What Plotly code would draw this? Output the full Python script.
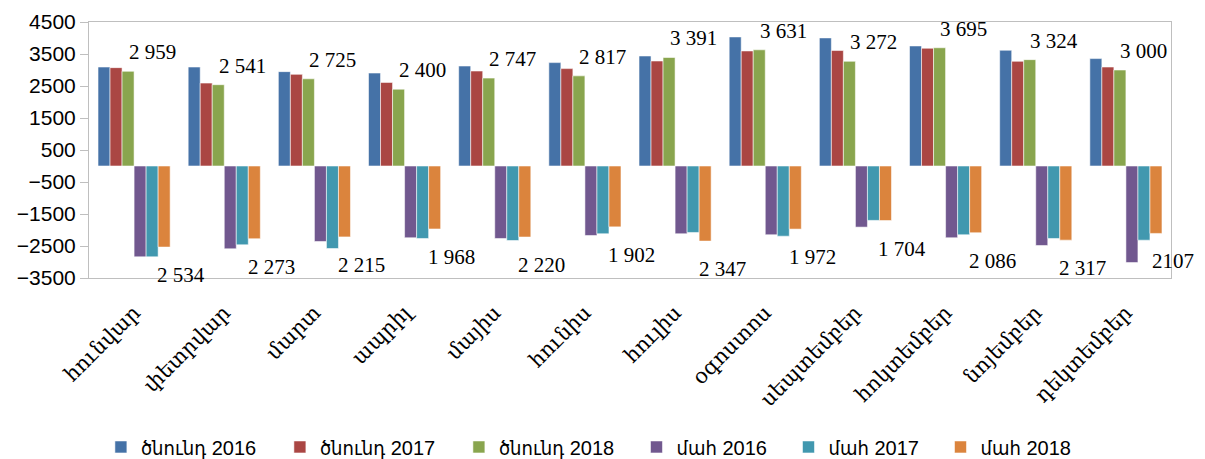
import plotly.graph_objects as go

months = ["հունվար", "փետրվար", "մարտ", "ապրիլ", "մայիս", "հունիս",
          "հուլիս", "օգոստոս", "սեպտեմբեր", "հոկտեմբեր", "նոյեմբեր", "դեկտեմբեր"]

births_2016 = [3093, 3093, 2949, 2905, 3125, 3231, 3438, 4034, 4003, 3752, 3617, 3357]
births_2017 = [3074, 2591, 2864, 2613, 2968, 3043, 3281, 3595, 3608, 3680, 3272, 3093]
births_2018 = [2959, 2541, 2725, 2400, 2747, 2817, 3391, 3631, 3272, 3695, 3324, 3000]
deaths_2016 = [2839, 2588, 2359, 2243, 2265, 2171, 2118, 2149, 1910, 2243, 2484, 3018]
deaths_2017 = [2839, 2463, 2579, 2265, 2328, 2118, 2077, 2193, 1700, 2149, 2265, 2318]
deaths_2018 = [2534, 2273, 2215, 1968, 2220, 1902, 2347, 1972, 1704, 2086, 2317, 2107]

label_births = ["2 959", "2 541", "2 725", "2 400", "2 747", "2 817",
                "3 391", "3 631", "3 272", "3 695", "3 324", "3 000"]
label_deaths = ["2 534", "2 273", "2 215", "1 968", "2 220", "1 902",
                "2 347", "1 972", "1 704", "2 086", "2 317", "2107"]

series = [
    ("ծնունդ 2016", births_2016, 1, "#4572A7", "legend"),
    ("ծնունդ 2017", births_2017, 1, "#AA4643", "legend"),
    ("ծնունդ 2018", births_2018, 1, "#89A54E", "legend"),
    ("մահ 2016", deaths_2016, -1, "#71588F", "legend2"),
    ("մահ 2017", deaths_2017, -1, "#4198AF", "legend2"),
    ("մահ 2018", deaths_2018, -1, "#DB843D", "legend2"),
]

y_ticks = list(range(-3500, 4501, 1000))
xs = list(range(len(months)))
bargap = 0.2
n = len(series)
bw = (1 - bargap) / n

fig = go.Figure()
for name, vals, sign, color, lg in series:
    fig.add_trace(go.Bar(
        x=xs, y=[sign * v for v in vals], name=name, legend=lg,
        marker=dict(color=color, line=dict(color="rgba(255,255,255,0.55)", width=1)),
    ))

serif = "Liberation Serif, DejaVu Serif, serif"
green_off = (2 - (n - 1) / 2) * bw
orange_off = (5 - (n - 1) / 2) * bw
annotations = []
for i in xs:
    annotations.append(dict(x=i + green_off, y=births_2018[i], xref="x", yref="y",
                            text=label_births[i], showarrow=False, xshift=24, yshift=19,
                            font=dict(family=serif, size=21, color="black")))
    annotations.append(dict(x=i + orange_off, y=-deaths_2018[i], xref="x", yref="y",
                            text=label_deaths[i], showarrow=False, xshift=17, yshift=-28,
                            font=dict(family=serif, size=21, color="black")))

legend_font = dict(family="Liberation Sans, DejaVu Sans Condensed, DejaVu Sans, sans-serif",
                   size=20, color="black")

fig.update_layout(
    width=1205, height=459,
    margin=dict(l=89, r=34, t=22, b=181, autoexpand=False),
    paper_bgcolor="white", plot_bgcolor="white",
    barmode="group", bargap=bargap, bargroupgap=0,
    showlegend=True,
    legend=dict(orientation="h", x=0.011, xanchor="left", y=-0.66, yanchor="middle",
                font=legend_font, itemwidth=30, traceorder="normal",
                entrywidth=134, entrywidthmode="pixels"),
    legend2=dict(orientation="h", x=0.506, xanchor="left", y=-0.66, yanchor="middle",
                 font=legend_font, itemwidth=30, traceorder="normal",
                 entrywidth=107, entrywidthmode="pixels"),
    xaxis=dict(range=[-0.5, 11.5], tickvals=xs, ticktext=months, tickangle=-45,
               showgrid=False, zeroline=False, showline=True, linecolor="#BFBFBF",
               linewidth=1, mirror=True, ticks="", automargin=False,
               ticklabelstandoff=13, ticklabelshift=0,
               tickfont=dict(family=serif, size=21, color="black")),
    xaxis2=dict(range=[-0.5, 11.5], overlaying="x", anchor="free",
                position=(0 - y_ticks[0]) / (y_ticks[-1] - y_ticks[0]),
                side="bottom", showline=True, linecolor="#5B9BD5", linewidth=1.5,
                ticks="outside", ticklen=6, tickcolor="#5B9BD5", tickwidth=1.5,
                tickvals=[i - 0.5 for i in range(len(months) + 1)], automargin=False,
                showticklabels=False, showgrid=False, zeroline=False),
    yaxis=dict(range=[y_ticks[0], y_ticks[-1]], tickvals=y_ticks, automargin=False,
               showgrid=False, zeroline=False, showline=True, linecolor="#BFBFBF",
               linewidth=1, mirror=True, ticks="outside", ticklen=8, tickcolor="#BFBFBF",
               tickfont=dict(family="Liberation Sans, Arial, sans-serif", size=21, color="black")),
    annotations=annotations,
)

fig.write_html("out.html", config={"displayModeBar": False},
               post_script="document.body.style.margin='0px';document.body.style.overflow='hidden';")
